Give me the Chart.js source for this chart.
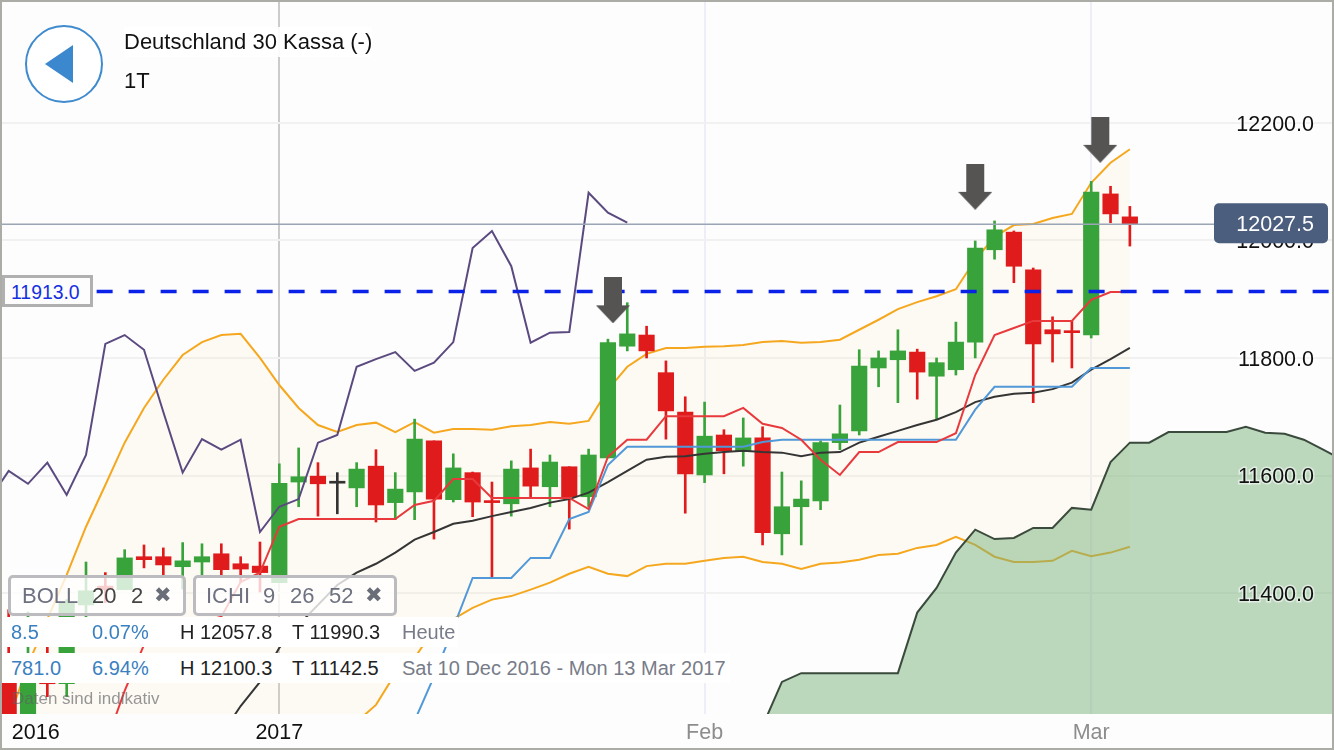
<!DOCTYPE html>
<html lang="de">
<head>
<meta charset="utf-8">
<title>Deutschland 30 Kassa</title>
<script src="https://cdn.jsdelivr.net/npm/chart.js@4"></script>
<style>
  html, body { margin: 0; padding: 0; background: #fdfdfd; }
  body { width: 1334px; height: 750px; position: relative; overflow: hidden; font-family: "Liberation Sans", sans-serif; }
  canvas { position: absolute; left: 0; top: 0; }
  .frame { position: absolute; left: 0; top: 0; width: 1330px; height: 746px; border: 2px solid #abaca6; pointer-events: none; }
  .abs { position: absolute; white-space: nowrap; }
  .title { font-size: 22px; color: #111; line-height: 30px; background: rgba(255,255,255,.9); }
  .level { left: 2px; top: 275px; width: 85px; height: 26px; border: 3px solid #b0b0b0; background: #fdfdfd; color: #1530e0; font-size: 19.4px; line-height: 29px; text-indent: 6px; }
  .panel { top: 575px; height: 35px; border: 3px solid #bcbcc0; border-radius: 5px; background: rgba(255,255,255,.78); box-sizing: content-box; }
  .panel span { position: absolute; top: 0; line-height: 35px; font-size: 22px; color: #6e7280; }
  .panel .dark { color: #444; }
  .panel .x { font-family: "DejaVu Sans", sans-serif; font-size: 21px; color: #6a6e78; }
  .row { left: 2px; height: 30px; background: #fff; font-size: 20px; line-height: 30px; color: #222; }
  .row span { position: absolute; top: 0; }
  .row .num { color: #3a80c0; }
  .row .note { color: #777c88; font-size: 20px; }
  .hint { left: 12px; top: 689px; font-size: 17px; color: rgba(95,95,100,.65); line-height: 20px; }
</style>
</head>
<body>
<canvas id="grafico" width="1334" height="750"></canvas>

<svg class="abs" style="left:0;top:0" width="130" height="130">
  <circle cx="64" cy="64" r="38" fill="#fff" stroke="#3f8bcd" stroke-width="2"/>
  <polygon points="73,45 45,64 73,83" fill="#3c88cf"/>
</svg>
<div class="abs title" style="left:124px;top:27px">Deutschland 30 Kassa (-)</div>
<div class="abs title" style="left:124px;top:66px;background:none">1T</div>
<div class="abs level">11913.0</div>

<div class="abs panel" style="left:8px;width:172px">
  <span style="left:11px">BOLL</span><span class="dark" style="left:81px">20</span><span class="dark" style="left:120px">2</span><span class="x" style="left:143px">✖</span>
</div>
<div class="abs panel" style="left:193px;width:198px">
  <span style="left:10px">ICHI</span><span style="left:67px">9</span><span style="left:94px">26</span><span style="left:133px">52</span><span class="x" style="left:169px">✖</span>
</div>

<div class="abs row" style="top:617px;width:456px">
  <span class="num" style="left:9px">8.5</span><span class="num" style="left:90px">0.07%</span><span style="left:178px">H 12057.8</span><span style="left:290px">T 11990.3</span><span class="note" style="left:400px">Heute</span>
</div>
<div class="abs row" style="top:653px;width:728px">
  <span class="num" style="left:9px">781.0</span><span class="num" style="left:90px">6.94%</span><span style="left:178px">H 12100.3</span><span style="left:290px">T 11142.5</span><span class="note" style="left:400px">Sat 10 Dec 2016 - Mon 13 Mar 2017</span>
</div>
<div class="abs hint">Daten sind indikativ</div>
<div class="frame"></div>

<script>
// Handelstage: 0 = erster Tag 2017, 22 = Feb, 42 = Mar
const firstCandleDay = -14;
const openValues = [11278, 11168, 11287, 11246, 11380, 11412, 11406, 11462, 11462, 11445, 11453, 11467, 11450, 11446, 11418, 11589, 11599, 11587, 11579, 11616, 11554, 11572, 11659, 11559, 11605, 11557, 11552, 11613, 11581, 11615, 11564, 11630, 11820, 11839, 11775, 11708, 11601, 11669, 11642, 11664, 11501, 11547, 11557, 11656, 11676, 11783, 11797, 11810, 11769, 11780, 11827, 11984, 12014, 11950, 11848, 11846, 11839, 12079, 12040];
const highValues = [11372, 11368, 11355, 11389, 11453, 11435, 11474, 11482, 11477, 11486, 11484, 11484, 11462, 11487, 11620, 11647, 11622, 11605, 11622, 11644, 11605, 11696, 11659, 11637, 11606, 11589, 11625, 11645, 11635, 11615, 11645, 11832, 11894, 11854, 11795, 11734, 11725, 11678, 11698, 11683, 11606, 11591, 11659, 11720, 11814, 11812, 11848, 11815, 11800, 11861, 11999, 12033, 12016, 11953, 11870, 11863, 12100.3, 12092, 12057.8];
const lowValues = [11145, 11159, 11224, 11224, 11360, 11384, 11406, 11443, 11428, 11407, 11428, 11431, 11418, 11402, 11418, 11547, 11531, 11535, 11547, 11521, 11525, 11525, 11492, 11555, 11530, 11428, 11531, 11562, 11547, 11509, 11547, 11630, 11812, 11800, 11662, 11536, 11588, 11603, 11616, 11482, 11465, 11482, 11542, 11644, 11669, 11751, 11724, 11730, 11695, 11771, 11800, 11968, 11928, 11724, 11793, 11783, 11834, 12030, 11990.3];
const closeValues = [11159, 11270, 11246, 11384, 11404, 11406, 11460, 11457, 11448, 11455, 11462, 11440, 11441, 11435, 11587, 11598, 11586, 11587, 11611, 11550, 11577, 11662, 11560, 11613, 11555, 11554, 11611, 11582, 11623, 11564, 11635, 11826, 11841, 11812, 11710, 11603, 11667, 11642, 11664, 11503, 11547, 11560, 11656, 11671, 11786, 11800, 11812, 11776, 11792, 11827, 11987, 12018, 11956, 11824, 11841, 11843, 12082, 12045, 12027.5];
const dojiDays = [3];

const chikouStart = -15;
const chikouValues = [11559, 11608, 11586, 11622, 11567, 11635, 11824, 11839, 11814, 11708, 11605, 11662, 11644, 11661, 11504, 11547, 11560, 11656, 11669, 11785, 11798, 11810, 11778, 11792, 11827, 11987, 12016, 11956, 11826, 11843, 11844, 12081, 12047, 12030];

const bandStart = -15;
const bollUpper = [11091, 11185, 11278, 11356, 11431, 11513, 11584, 11656, 11715, 11763, 11805, 11827, 11839, 11841, 11800, 11754, 11715, 11686, 11674, 11686, 11690, 11674, 11691, 11673, 11679, 11679, 11678, 11684, 11686, 11691, 11688, 11693, 11746, 11785, 11807, 11817, 11817, 11819, 11820, 11822, 11827, 11829, 11826, 11827, 11831, 11848, 11865, 11883, 11895, 11905, 11917, 11967, 12006, 12026, 12028, 12038, 12045, 12098, 12132, 12155];
const bollLower = [10900, 10880, 10860, 10840, 10820, 10800, 10790, 10780, 10770, 10770, 10770, 10780, 10790, 10800, 10830, 10860, 10977, 11074, 11154, 11181, 11210, 11263, 11290, 11338, 11356, 11375, 11389, 11395, 11406, 11418, 11433, 11445, 11433, 11429, 11446, 11450, 11450, 11455, 11460, 11462, 11453, 11450, 11441, 11450, 11452, 11457, 11465, 11467, 11477, 11482, 11496, 11482, 11462, 11453, 11453, 11455, 11472, 11463, 11469, 11479];

const bollMiddleStart = -3;
const bollMiddle = [11159, 11208, 11249, 11307, 11346, 11380, 11414, 11435, 11450, 11469, 11491, 11504, 11518, 11523, 11531, 11538, 11545, 11554, 11560, 11571, 11589, 11608, 11627, 11632, 11633, 11637, 11640, 11642, 11640, 11639, 11633, 11639, 11640, 11656, 11666, 11676, 11686, 11695, 11708, 11725, 11734, 11739, 11741, 11747, 11758, 11780, 11798, 11817];

const tenkanStart = -9;
const tenkanValues = [11142, 11234, 11312, 11338, 11346, 11351, 11360, 11419, 11435, 11513, 11526, 11526, 11526, 11526, 11526, 11526, 11550, 11557, 11594, 11594, 11562, 11562, 11562, 11562, 11562, 11543, 11632, 11661, 11661, 11701, 11701, 11701, 11701, 11715, 11688, 11681, 11661, 11627, 11601, 11640, 11640, 11657, 11657, 11657, 11672, 11771, 11839, 11851, 11863, 11863, 11863, 11899, 11912, 11912];

const kijunStart = 6;
const kijunValues = [11117, 11183, 11258, 11341, 11426, 11426, 11426, 11460, 11460, 11526, 11538, 11618, 11649, 11649, 11649, 11649, 11649, 11649, 11649, 11657, 11661, 11661, 11661, 11661, 11661, 11661, 11661, 11661, 11661, 11661, 11712, 11751, 11751, 11751, 11751, 11751, 11783, 11783, 11783];

const cloudStart = 24;
const cloudValues = [11100, 11174, 11249, 11264, 11264, 11264, 11264, 11264, 11264, 11367, 11409, 11469, 11508, 11492, 11494, 11511, 11511, 11545, 11542, 11623, 11656, 11656, 11674, 11674, 11674, 11674, 11683, 11673, 11671, 11661, 11644, 11627];

const arrowDays = [17.26, 36, 42.47];
const arrowValues = [11898, 12091, 12171];

const levelDays = [-9.45, 54.6];
const levelValues = [11913, 11913];
const priceDays = [-14.5, 48.4];
const priceValue = 12027.5;

const xTickDays = [-12.6, 0, 22, 42];
const xTickLabels = ['2016', '2017', 'Feb', 'Mar'];
const xTickColors = ['#111', '#111', '#8d8d8d', '#8d8d8d'];
const xGridColors = ['rgba(0,0,0,0)', '#cbcbcb', '#eeeef8', '#eeeef8'];
const yTicks = [11400, 11600, 11800, 12000, 12200];

const GREEN = '#38a33b';
const RED = '#e01b1c';
const DOJI = '#333333';

function serie(start, valores) {
  return valores.map((y, i) => ({ x: start + i, y }));
}

function corCandle(i) {
  if (dojiDays.includes(firstCandleDay + i)) return DOJI;
  return closeValues[i] >= openValues[i] ? GREEN : RED;
}

function linha(label, data, cor, order, extra) {
  return Object.assign({
    type: 'line', label, data, borderColor: cor, borderWidth: 2,
    pointRadius: 0, tension: 0, fill: false, order,
  }, extra);
}

function criarSeta() {
  const c = document.createElement('canvas');
  c.width = 34;
  c.height = 46;
  const g = c.getContext('2d');
  g.fillStyle = '#555452';
  g.beginPath();
  g.moveTo(8, 0); g.lineTo(26, 0); g.lineTo(26, 28); g.lineTo(34, 28);
  g.lineTo(17, 46); g.lineTo(0, 28); g.lineTo(8, 28);
  g.closePath();
  g.fill();
  return c;
}

// Etiqueta do preço atual, por cima dos ticks
const priceLabel = {
  id: 'priceLabel',
  afterDraw(chart) {
    const { ctx, scales: { y } } = chart;
    const py = y.getPixelForValue(priceValue);
    ctx.save();
    ctx.fillStyle = '#4b5e7e';
    ctx.beginPath();
    ctx.roundRect(1214, py - 21, 114, 40, 5);
    ctx.fill();
    ctx.fillStyle = '#fff';
    ctx.font = '21.5px "Liberation Sans"';
    ctx.textAlign = 'right';
    ctx.textBaseline = 'middle';
    ctx.fillText(priceValue.toFixed(1), 1314, py + 1);
    ctx.restore();
  },
};

const wicks = highValues.map((h, i) => ({ x: firstCandleDay + i, y: [lowValues[i], h] }));
const bodies = openValues.map((o, i) => ({ x: firstCandleDay + i, y: [o, closeValues[i]] }));
const cores = openValues.map((_, i) => corCandle(i));

new Chart(document.getElementById('grafico').getContext('2d'), {
  type: 'line',
  plugins: [priceLabel],
  data: {
    datasets: [
      linha('BOLL oben', serie(bandStart, bollUpper), '#f5a81f', 12, { fill: '+1', backgroundColor: 'rgba(255,226,160,0.1)' }),
      linha('BOLL unten', serie(bandStart, bollLower), '#f5a81f', 11),
      linha('Wolke', serie(cloudStart, cloudValues), '#3a4a3c', 10, { fill: 'start', backgroundColor: 'rgba(121,177,123,0.5)' }),
      { type: 'bar', label: 'Docht', data: wicks, backgroundColor: cores, barThickness: 2, grouped: false, order: 9 },
      { type: 'bar', label: 'Kerze', data: bodies, backgroundColor: cores, barThickness: 15.5, grouped: false, minBarLength: 2, order: 8 },
      linha('Chikou', serie(chikouStart, chikouValues), '#5b4a80', 7),
      linha('BOLL Mitte', serie(bollMiddleStart, bollMiddle), '#353535', 6),
      linha('Kijun', serie(kijunStart, kijunValues), '#5098d8', 5),
      linha('Tenkan', serie(tenkanStart, tenkanValues), '#e8393d', 4),
      linha('Kurs', priceDays.map(x => ({ x, y: priceValue })), '#9aa5b5', 3, { borderWidth: 1.6 }),
      linha('Marke', levelDays.map((x, i) => ({ x, y: levelValues[i] })), '#0a22e8', 2, { borderWidth: 3.5, borderDash: [16, 16] }),
      {
        type: 'line', label: 'Pfeile', data: arrowDays.map((x, i) => ({ x, y: arrowValues[i] })),
        showLine: false, pointStyle: criarSeta(), pointRadius: 17, order: 1,
      },
    ],
  },
  options: {
    responsive: false,
    animation: false,
    layout: { padding: 0, autoPadding: false },
    plugins: { legend: { display: false }, tooltip: { enabled: false } },
    scales: {
      x: {
        type: 'linear',
        min: -14.449,
        max: 54.56,
        offset: false,
        afterBuildTicks(scale) { scale.ticks = xTickDays.map(value => ({ value })); },
        afterFit(scale) {
          scale.height = 36;
          scale.paddingLeft = 0;
          scale.paddingRight = 0;
        },
        border: { display: false },
        grid: {
          offset: false, lineWidth: 2, drawTicks: false,
          color: ctx => xGridColors[ctx.index],
        },
        ticks: {
          autoSkip: false, maxRotation: 0, padding: 6,
          font: { family: '"Liberation Sans"', size: 21.5 },
          color: ctx => xTickColors[ctx.index],
          callback: (v, i) => xTickLabels[i],
        },
      },
      y: {
        type: 'linear',
        position: 'right',
        min: 11194.5,
        max: 12408.8,
        afterBuildTicks(scale) { scale.ticks = yTicks.map(value => ({ value })); },
        afterFit(scale) {
          scale.width = 0;
          scale.paddingTop = 0;
          scale.paddingBottom = 0;
        },
        border: { display: false },
        grid: { lineWidth: 2, color: '#f1f1f1', drawTicks: false },
        ticks: {
          mirror: true, padding: -20, z: 1, labelOffset: 2,
          font: { family: '"Liberation Sans"', size: 21.5 },
          color: '#111',
          textStrokeColor: 'rgba(255,255,255,0.55)',
          textStrokeWidth: 3,
          callback: v => v.toFixed(1),
        },
      },
    },
  },
});
</script>
</body>
</html>
